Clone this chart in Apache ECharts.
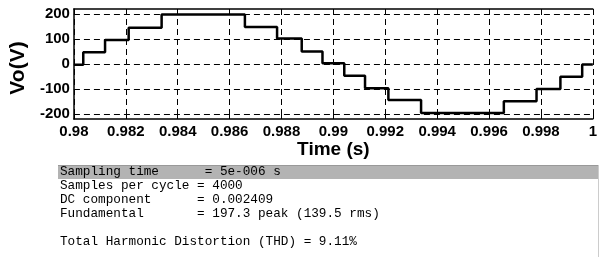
<!DOCTYPE html>
<html>
<head>
<meta charset="utf-8">
<script src="https://cdn.jsdelivr.net/npm/echarts@6/dist/echarts.min.js"></script>
<style>
html,body{margin:0;padding:0;background:#fff;}
#main{width:600px;height:257px;}
</style>
</head>
<body>
<div id="main"></div>
<script>
// instants where the staircase changes (s) and the level held from there (V)
var stepTimes  = [0.98, 0.98036, 0.9812, 0.98211, 0.98338, 0.98659, 0.98783, 0.98878, 0.98958,
                  0.99042, 0.99122, 0.99212, 0.99338, 0.99657, 0.99783, 0.99875, 0.99959];
var stepLevels = [-3, 47, 96, 145, 198, 148, 102, 50, 3,
                  -47, -97, -144, -196, -149, -100, -51, -2];
var tEnd = 1.0;
var yTicks = [-200, -100, 0, 100, 200];

// FFT analysis text under the plot
var infoLines = [
    "Sampling time      = 5e-006 s",
    "Samples per cycle = 4000",
    "DC component      = 0.002409",
    "Fundamental       = 197.3 peak (139.5 rms)",
    "",
    "Total Harmonic Distortion (THD) = 9.11%"
];

var wave = [];
for (var i = 0; i < stepTimes.length; i++) {
    wave.push([stepTimes[i], stepLevels[i]]);
}
wave.push([tEnd, stepLevels[stepLevels.length - 1]]);

var axisFont = 'Liberation Sans, Arial, sans-serif';
var dashed = {show: true, lineStyle: {color: '#000', width: 1, type: [6, 4]}};

var texts = [];
for (var j = 0; j < infoLines.length; j++) {
    texts.push({
        type: 'text',
        x: 60,
        y: 172 + j * 14,
        style: {
            text: infoLines[j],
            font: '12.7px "Liberation Mono", "Courier New", monospace',
            fill: '#000',
            verticalAlign: 'middle'
        }
    });
}

var myChart = echarts.init(document.getElementById('main'));
var option = {
    animation: false,
    backgroundColor: '#fff',
    grid: {left: 62, top: 9, width: 539, height: 110},
    xAxis: [
        {
            type: 'value',
            min: 0.98,
            max: tEnd,
            interval: 0.002,
            position: 'bottom',
            name: 'Time (s)',
            nameLocation: 'middle',
            nameGap: 20,
            nameTextStyle: {fontSize: 19, fontWeight: 'bold', color: '#000', fontFamily: axisFont},
            axisLine: {onZero: false, lineStyle: {color: '#000', width: 1.5}},
            axisTick: {inside: true, length: 5, lineStyle: {color: '#000'}},
            axisLabel: {fontSize: 15, fontWeight: 'bold', color: '#000', fontFamily: axisFont, margin: 5, alignMaxLabel: 'center'},
            splitLine: dashed
        },
        {
            type: 'value',
            min: 0.98,
            max: tEnd,
            interval: 0.002,
            position: 'top',
            axisLine: {onZero: false, lineStyle: {color: '#000', width: 1.5}},
            axisTick: {inside: true, length: 5, lineStyle: {color: '#000'}},
            axisLabel: {show: false},
            splitLine: {show: false}
        }
    ],
    yAxis: {
        type: 'value',
        min: -220,
        max: 220,
        name: 'Vo(V)',
        nameLocation: 'middle',
        nameGap: 44,
        nameTextStyle: {fontSize: 21, fontWeight: 'bold', color: '#000', fontFamily: axisFont, padding: [0, 8, 0, 0]},
        axisLine: {show: true, lineStyle: {color: '#000', width: 1.5}},
        axisTick: {show: true, inside: true, length: 5, customValues: yTicks, lineStyle: {color: '#000'}},
        axisLabel: {fontSize: 15, fontWeight: 'bold', color: '#000', fontFamily: axisFont, margin: 4, customValues: yTicks},
        splitLine: dashed
    },
    graphic: [
        {type: 'rect', shape: {x: 58, y: 165, width: 540, height: 14}, style: {fill: '#b3b3b3'}},
        {type: 'line', shape: {x1: 58, y1: 165.5, x2: 598, y2: 165.5}, style: {stroke: '#999', lineWidth: 1}},
        {type: 'line', shape: {x1: 598.5, y1: 165, x2: 598.5, y2: 257}, style: {stroke: '#ccc', lineWidth: 1}}
    ].concat(texts),
    series: [
        {
            name: 'Vo',
            type: 'line',
            step: 'end',
            showSymbol: false,
            data: wave,
            lineStyle: {color: '#000', width: 2.5}
        }
    ]
};
myChart.setOption(option);
</script>
</body>
</html>
